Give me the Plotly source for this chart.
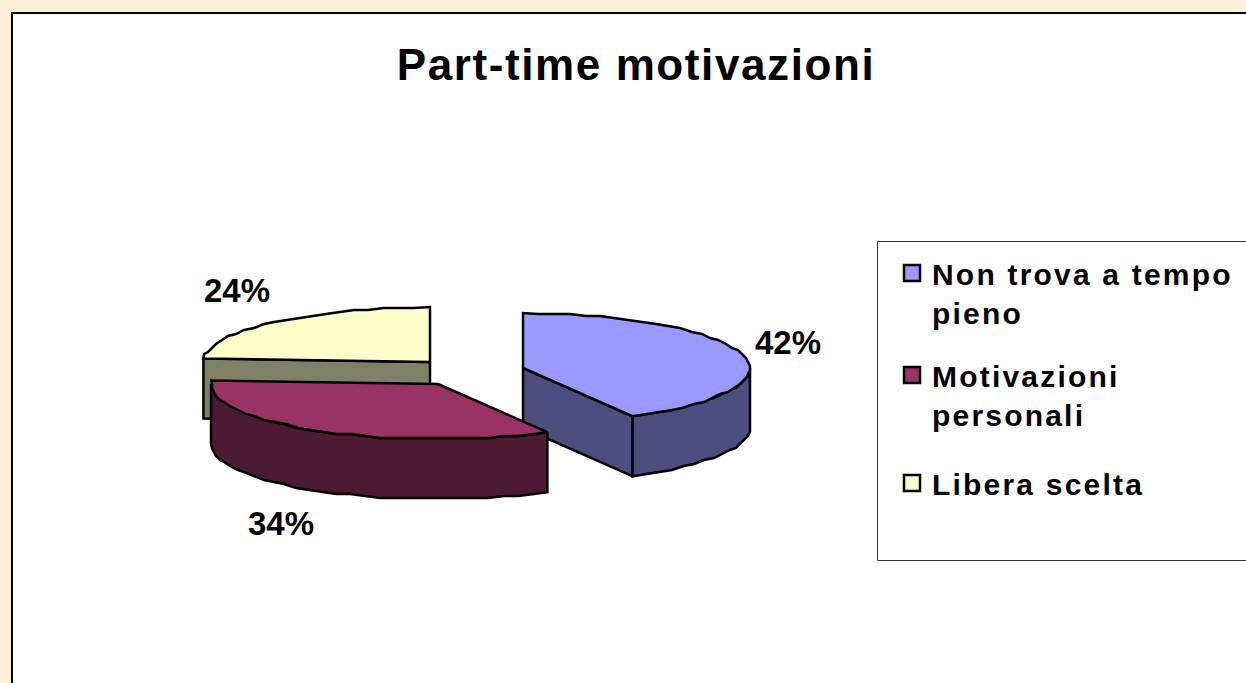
import math
import plotly.graph_objects as go

# ---- data ----
categories = ["\u00a0<br>Non trova a tempo<br>pieno", "\u00a0<br>Motivazioni<br>personali", "Libera scelta"]
shares = [42, 34, 24]
title_text = "Part-time motivazioni"

# ---- styling ----
top_colors = ["#9999FF", "#993366", "#FFFFCC"]
side_colors = ["#4D4D80", "#4D1A33", "#808066"]
FONT = "Liberation Sans, Arial, sans-serif"
W, H = 1246, 683
RX, RY, DEPTH = 227, 55, 60
# exploded centre of each slice, in page pixels
centers = [(523, 368), (438, 384), (430, 362)]
label_shift = [(45, -12), (-35, 93), (-38, -31)]
legend_tops = [208, 310, 457]
STEP = 4.0
GRID = 2.0


def arc(c, a0, a1):
    n = max(2, int(round((a1 - a0) / STEP)))
    pts = []
    for i in range(n + 1):
        t = math.radians(a0 + (a1 - a0) * i / n)
        x = c[0] + RX * math.sin(t)
        y = c[1] - RY * math.cos(t)
        if 0 < i < n:  # the source chart's rim is a coarse, slightly wavy polygon
            x = round(x / GRID) * GRID
            y = round(y / GRID) * GRID
        pts.append((x, y))
    return pts


def poly(fig, pts, color):
    fig.add_trace(go.Scatter(
        x=[p[0] for p in pts] + [pts[0][0]],
        y=[p[1] for p in pts] + [pts[0][1]],
        mode="lines", fill="toself", fillcolor=color,
        line=dict(color="#000000", width=2.5, shape="linear"),
        hoverinfo="skip", showlegend=False))


def drop(pts):
    return [(x, y + DEPTH) for x, y in pts]


fig = go.Figure()

# slice angles, clockwise from 12 o'clock
starts, acc = [], 0.0
for v in shares:
    starts.append(acc)
    acc += v
tot = acc
span = [(s / tot * 360, (s + v) / tot * 360) for s, v in zip(starts, shares)]

for idx in [2, 0, 1]:
    c = centers[idx]
    a0, a1 = span[idx]
    top = arc(c, a0, a1)
    # outer wall: the front half of the rim
    f0, f1 = max(a0, 90), min(a1, 270)
    if f1 > f0:
        w = arc(c, f0, f1)
        poly(fig, w + drop(w)[::-1], side_colors[idx])
    # cut face that looks to the viewer
    for ang in (a0, a1):
        if (ang == a1 and 90 < ang < 180) or (ang == a0 and 180 < ang < 360):
            rim = arc(c, ang, ang + 1e-6)[0]
            face = [c, rim]
            poly(fig, face + drop(face)[::-1], side_colors[idx])
    poly(fig, [c] + top, top_colors[idx])

# legend entries: one legend per entry so each can sit at its own height
legend_ids = ["legend", "legend2", "legend3"]
for i, name in enumerate(categories):
    fig.add_trace(go.Scatter(
        x=[None], y=[None], mode="markers", name=name, legend=legend_ids[i],
        marker=dict(symbol="square", size=16, color=top_colors[i],
                    line=dict(color="#000000", width=2.5))))

# percentage labels, anchored at the rim point in the middle of each slice
annotations = []
for i, v in enumerate(shares):
    m = math.radians(sum(span[i]) / 2)
    x = centers[i][0] + RX * math.sin(m)
    y = centers[i][1] - RY * math.cos(m)
    annotations.append(dict(
        x=x, y=y, xref="x", yref="y", text=f"{v}%", showarrow=False,
        xshift=label_shift[i][0], yshift=-label_shift[i][1],
        font=dict(family=FONT, size=33, color="#000000", weight="bold")))


def legend_cfg(top):
    return dict(x=892 / W, y=1 - top / H, xanchor="left", yanchor="top",
                bgcolor="rgba(0,0,0,0)", borderwidth=0, itemwidth=30,
                font=dict(family=FONT, size=30, color="#000000", weight="bold"))


fig.update_layout(
    width=W, height=H, margin=dict(l=0, r=0, t=0, b=0),
    paper_bgcolor="#FCF0D8", plot_bgcolor="rgba(0,0,0,0)",
    xaxis=dict(range=[0, W], visible=False, fixedrange=True),
    yaxis=dict(range=[H, 0], visible=False, fixedrange=True),
    title=dict(text=f"<b>{title_text}</b>", x=636 / W, xanchor="center",
               y=1 - 65 / H, yanchor="middle",
               font=dict(family=FONT, size=44, color="#000000")),
    font=dict(family=FONT, color="#000000"),
    showlegend=True,
    legend=legend_cfg(legend_tops[0]),
    legend2=legend_cfg(legend_tops[1]),
    legend3=legend_cfg(legend_tops[2]),
    annotations=annotations,
    shapes=[
        dict(type="rect", xref="x", yref="y", x0=12, y0=13, x1=W + 60, y1=H + 60,
             fillcolor="#FFFFFF", line=dict(color="#000000", width=2), layer="below"),
        dict(type="rect", xref="x", yref="y", x0=877.5, y0=241.5, x1=W + 60, y1=560.5,
             fillcolor="#FFFFFF", line=dict(color="#333333", width=1), layer="below"),
    ],
)

css = ("var s=document.createElement('style');"
       "s.textContent='.legendtext,.legend2text,.legend3text{letter-spacing:2.2px}"
       ".gtitle{letter-spacing:1.6px}"
       ".scrollbox{clip-path:none !important}';"
       "document.head.appendChild(s);document.body.style.margin='0';")
fig.write_html("out.html", post_script=css, config={"displayModeBar": False})
